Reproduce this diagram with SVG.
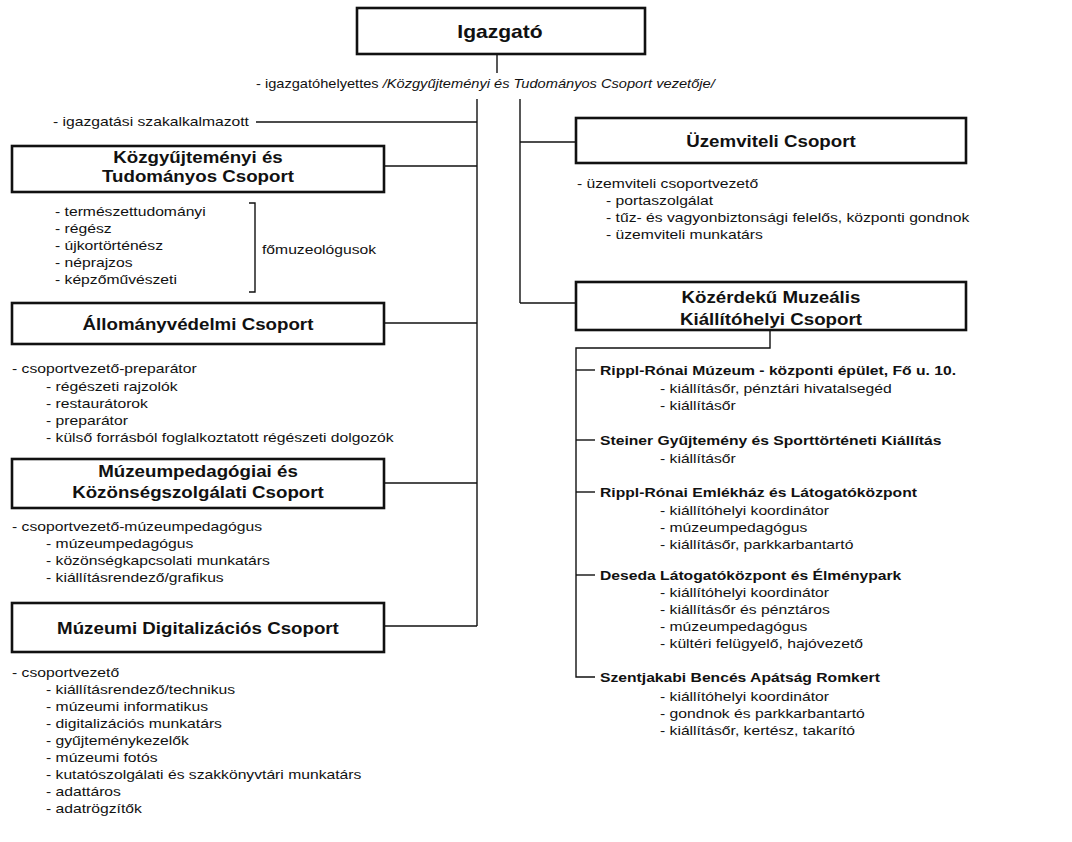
<svg xmlns="http://www.w3.org/2000/svg" width="1072" height="842" viewBox="0 0 1072 842">
<style>
text { font-family: "Liberation Sans", Arial, sans-serif; fill: #111; }
.s { transform-box: fill-box; transform-origin: left center; transform: scaleX(1.17); }
.m { transform-box: fill-box; transform-origin: center; transform: scaleX(1.17); text-anchor: middle; }
.t { font-size: 13.4px; }
.d { font-size: 12.5px; }
.h { font-size: 16px; font-weight: bold; }
.top { font-size: 18px; font-weight: bold; }
.sh { font-size: 13.4px; font-weight: bold; }
.box { fill: #fff; stroke: #111; stroke-width: 2.6; }
.ln { fill: none; stroke: #111; stroke-width: 1.4; }
</style>
<rect width="1072" height="842" fill="#fff"/>

<g id="connectors">
  <path class="ln" d="M497 54 V73"/>
  <path class="ln" d="M477 99 V626"/>
  <path class="ln" d="M520 99 V303"/>
  <path class="ln" d="M256 122 H477"/>
  <path class="ln" d="M384 166 H477"/>
  <path class="ln" d="M384 323 H477"/>
  <path class="ln" d="M384 483 H477"/>
  <path class="ln" d="M384 626 H477"/>
  <path class="ln" d="M520 142 H576"/>
  <path class="ln" d="M520 303 H576"/>
  <path class="ln" d="M770 330 V348 H576 V677 H595"/>
  <path class="ln" d="M576 370 H595"/>
  <path class="ln" d="M576 440 H595"/>
  <path class="ln" d="M576 492 H595"/>
  <path class="ln" d="M576 575 H595"/>
  <path class="ln" d="M249 203 H255 V292 H249"/>
</g>

<g id="igazgato">
  <rect class="box" x="357" y="8" width="288" height="46"/>
  <text class="top m" x="500" y="38">Igazgató</text>
</g>

<g id="helyettes">
  <text class="d s" x="256" y="88">- igazgatóhelyettes <tspan font-style="italic">/Közgyűjteményi és Tudományos Csoport vezetője/</tspan></text>
</g>

<g id="szakalkalmazott">
  <text class="t s" x="53" y="126">- igazgatási szakalkalmazott</text>
</g>

<g id="kozgyujtemenyi">
  <rect class="box" x="12" y="146" width="372" height="46"/>
  <text class="h m" x="198" y="163">Közgyűjteményi és</text>
  <text class="h m" x="198" y="182">Tudományos Csoport</text>
  <text class="t s" x="55" y="216">- természettudományi</text>
  <text class="t s" x="55" y="233">- régész</text>
  <text class="t s" x="55" y="250">- újkortörténész</text>
  <text class="t s" x="55" y="267">- néprajzos</text>
  <text class="t s" x="55" y="284">- képzőművészeti</text>
  <text class="t s" x="262" y="254">főmuzeológusok</text>
</g>

<g id="allomanyvedelmi">
  <rect class="box" x="12" y="303" width="372" height="41"/>
  <text class="h m" x="198" y="330">Állományvédelmi Csoport</text>
  <text class="t s" x="12" y="373">- csoportvezető-preparátor</text>
  <text class="t s" x="46" y="391">- régészeti rajzolók</text>
  <text class="t s" x="46" y="408">- restaurátorok</text>
  <text class="t s" x="46" y="425">- preparátor</text>
  <text class="t s" x="46" y="442">- külső forrásból foglalkoztatott régészeti dolgozók</text>
</g>

<g id="muzeumpedagogiai">
  <rect class="box" x="12" y="459" width="372" height="49"/>
  <text class="h m" x="198" y="477">Múzeumpedagógiai és</text>
  <text class="h m" x="198" y="498">Közönségszolgálati Csoport</text>
  <text class="t s" x="12" y="531">- csoportvezető-múzeumpedagógus</text>
  <text class="t s" x="46" y="548">- múzeumpedagógus</text>
  <text class="t s" x="46" y="565">- közönségkapcsolati munkatárs</text>
  <text class="t s" x="46" y="582">- kiállításrendező/grafikus</text>
</g>

<g id="digitalizacios">
  <rect class="box" x="12" y="603" width="372" height="49"/>
  <text class="h m" x="198" y="634">Múzeumi Digitalizációs Csoport</text>
  <text class="t s" x="12" y="677">- csoportvezető</text>
  <text class="t s" x="46" y="694">- kiállításrendező/technikus</text>
  <text class="t s" x="46" y="711">- múzeumi informatikus</text>
  <text class="t s" x="46" y="728">- digitalizációs munkatárs</text>
  <text class="t s" x="46" y="745">- gyűjteménykezelők</text>
  <text class="t s" x="46" y="762">- múzeumi fotós</text>
  <text class="t s" x="46" y="779">- kutatószolgálati és szakkönyvtári munkatárs</text>
  <text class="t s" x="46" y="796">- adattáros</text>
  <text class="t s" x="46" y="813">- adatrögzítők</text>
</g>

<g id="uzemviteli">
  <rect class="box" x="576" y="118" width="390" height="45"/>
  <text class="h m" x="771" y="147">Üzemviteli Csoport</text>
  <text class="t s" x="577" y="188">- üzemviteli csoportvezető</text>
  <text class="t s" x="606" y="205">- portaszolgálat</text>
  <text class="t s" x="606" y="222">- tűz- és vagyonbiztonsági felelős, központi gondnok</text>
  <text class="t s" x="606" y="239">- üzemviteli munkatárs</text>
</g>

<g id="kozerdeku">
  <rect class="box" x="576" y="282" width="390" height="48"/>
  <text class="h m" x="771" y="303">Közérdekű Muzeális</text>
  <text class="h m" x="771" y="325">Kiállítóhelyi Csoport</text>
</g>

<g id="rippl-muzeum">
  <text class="sh s" x="600" y="375">Rippl-Rónai Múzeum - központi épület, Fő u. 10.</text>
  <text class="t s" x="660" y="393">- kiállításőr, pénztári hivatalsegéd</text>
  <text class="t s" x="660" y="410">- kiállításőr</text>
</g>

<g id="steiner">
  <text class="sh s" x="600" y="445">Steiner Gyűjtemény és Sporttörténeti Kiállítás</text>
  <text class="t s" x="660" y="463">- kiállításőr</text>
</g>

<g id="rippl-emlekhaz">
  <text class="sh s" x="600" y="497">Rippl-Rónai Emlékház és Látogatóközpont</text>
  <text class="t s" x="660" y="515">- kiállítóhelyi koordinátor</text>
  <text class="t s" x="660" y="532">- múzeumpedagógus</text>
  <text class="t s" x="660" y="549">- kiállításőr, parkkarbantartó</text>
</g>

<g id="deseda">
  <text class="sh s" x="600" y="580">Deseda Látogatóközpont és Élménypark</text>
  <text class="t s" x="660" y="597">- kiállítóhelyi koordinátor</text>
  <text class="t s" x="660" y="614">- kiállításőr és pénztáros</text>
  <text class="t s" x="660" y="631">- múzeumpedagógus</text>
  <text class="t s" x="660" y="648">- kültéri felügyelő, hajóvezető</text>
</g>

<g id="szentjakabi">
  <text class="sh s" x="600" y="682">Szentjakabi Bencés Apátság Romkert</text>
  <text class="t s" x="660" y="701">- kiállítóhelyi koordinátor</text>
  <text class="t s" x="660" y="718">- gondnok és parkkarbantartó</text>
  <text class="t s" x="660" y="735">- kiállításőr, kertész, takarító</text>
</g>
</svg>
